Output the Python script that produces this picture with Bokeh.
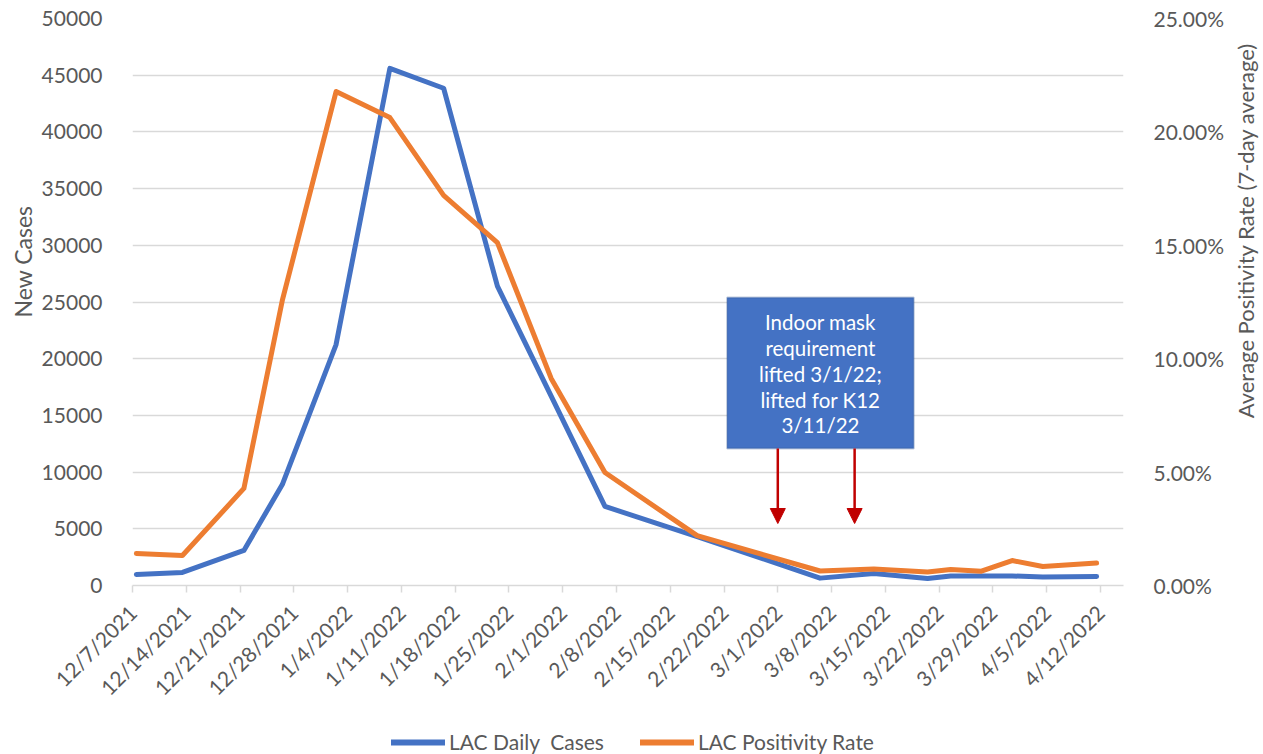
import pandas as pd
from math import pi
from bokeh.plotting import figure
from bokeh.layouts import column
from bokeh.models import (LinearAxis, Range1d, FixedTicker, NumeralTickFormatter,
                          Legend, LegendItem, BoxAnnotation, Label, Arrow, NormalHead)
from bokeh.embed import file_html
from bokeh.resources import INLINE

# ---------------- data ----------------
dates = ["2021-12-07", "2021-12-13", "2021-12-21", "2021-12-26", "2022-01-02",
         "2022-01-09", "2022-01-16", "2022-01-23", "2022-01-30", "2022-02-06",
         "2022-02-18", "2022-03-06", "2022-03-13", "2022-03-20", "2022-03-23",
         "2022-03-27", "2022-03-31", "2022-04-04", "2022-04-11"]
daily_cases = [970, 1150, 3090, 8900, 21250, 45600, 43850, 26400, 16700, 6970,
               4320, 650, 1060, 620, 840, 840, 840, 750, 790]
positivity_rate = [0.0141, 0.0132, 0.0428, 0.1257, 0.2178, 0.2063, 0.1720, 0.1512,
                   0.0913, 0.0498, 0.0220, 0.0064, 0.0073, 0.0060, 0.0071, 0.0063,
                   0.0110, 0.0084, 0.0099]
tick_labels = ["12/7/2021", "12/14/2021", "12/21/2021", "12/28/2021", "1/4/2022",
               "1/11/2022", "1/18/2022", "1/25/2022", "2/1/2022", "2/8/2022",
               "2/15/2022", "2/22/2022", "3/1/2022", "3/8/2022", "3/15/2022",
               "3/22/2022", "3/29/2022", "4/5/2022", "4/12/2022"]
series_names = ["LAC Daily  Cases", "LAC Positivity Rate"]
mask_dates = ["2022-03-01", "2022-03-11"]
note_lines = ["Indoor mask", "requirement", "lifted 3/1/22;", "lifted for K12", "3/11/22"]

# ---------------- helpers ----------------
start = pd.Timestamp(dates[0])
def day(d):
    return (pd.Timestamp(d) - start).days

# Excel date axis centres each point in its day
xs = [day(d) + 0.5 for d in dates]
tick_days = [day(pd.Timestamp(l)) for l in tick_labels]

FONT = "Lato"
TXT = "#595959"
BLUE = "#4472C4"
ORANGE = "#ED7D31"
GRID = "#D9D9D9"

W, H_MAIN, H_LEG = 1263, 720, 34

p = figure(width=W, height=H_MAIN, output_backend="svg", toolbar_location=None,
           x_range=Range1d(0, 129), y_range=Range1d(0, 50000),
           min_border_left=132, min_border_right=140, min_border_top=18,
           min_border_bottom=135)
p.outline_line_color = None
p.extra_y_ranges = {"pct": Range1d(0, 0.25)}

# grid
p.xgrid.visible = False
p.ygrid.ticker = FixedTicker(ticks=list(range(0, 50001, 5000)))
p.ygrid.grid_line_color = GRID
p.ygrid.grid_line_width = 1.5

# left axis
ya = p.yaxis[0]
ya.ticker = FixedTicker(ticks=list(range(0, 50001, 5000)))
ya.formatter = NumeralTickFormatter(format="0")
ya.axis_line_color = None
ya.major_tick_line_color = None
ya.minor_tick_line_color = None
ya.major_label_standoff = 24
ya.major_label_text_font = FONT
ya.major_label_text_font_size = "21px"
ya.major_label_text_color = TXT

# right axis
ra = LinearAxis(y_range_name="pct",
                ticker=FixedTicker(ticks=[0, 0.05, 0.10, 0.15, 0.20, 0.25]),
                formatter=NumeralTickFormatter(format="0.00%"))
ra.axis_line_color = None
ra.major_tick_line_color = None
ra.minor_tick_line_color = None
ra.major_label_standoff = 24
ra.major_label_text_font = FONT
ra.major_label_text_font_size = "21px"
ra.major_label_text_color = TXT
p.add_layout(ra, "right")

# bottom axis
xa = p.xaxis[0]
xa.ticker = FixedTicker(ticks=tick_days)
xa.major_label_overrides = {t: l for t, l in zip(tick_days, tick_labels)}
xa.major_label_orientation = pi / 4
xa.axis_line_color = GRID
xa.axis_line_width = 1.5
xa.major_tick_line_color = GRID
xa.major_tick_line_width = 1.5
xa.major_tick_in = 0
xa.major_tick_out = 7
xa.minor_tick_line_color = None
xa.major_label_standoff = 16
xa.major_label_text_font = FONT
xa.major_label_text_font_size = "21px"
xa.major_label_text_color = TXT

# series
p.line(xs, daily_cases, line_color=BLUE, line_width=5,
       line_join="round", line_cap="round")
p.line(xs, positivity_rate, y_range_name="pct", line_color=ORANGE,
       line_width=5, line_join="round", line_cap="round")

# axis titles (placed in the side panels so they are not clipped by the frame)
p.add_layout(Label(x=-14.3, y=28571, text="New Cases", angle=pi / 2,
                   text_align="center", text_baseline="middle", text_font=FONT,
                   text_font_size="23px", text_color=TXT), "left")
p.add_layout(Label(x=144.9, y=0.1565, y_range_name="pct",
                   text="Average Positivity Rate (7-day average)", angle=pi / 2,
                   text_align="center", text_baseline="middle", text_font=FONT,
                   text_font_size="22px", text_color=TXT), "right")

# annotation box
box_left, box_right, box_bottom, box_top = 77.4, 101.7, 12080, 25400
p.add_layout(BoxAnnotation(left=box_left, right=box_right, bottom=box_bottom,
                           top=box_top, fill_color=BLUE, fill_alpha=1.0,
                           line_color="#2F528F", line_width=2))
cx = (box_left + box_right) / 2
for i, t in enumerate(note_lines):
    p.add_layout(Label(x=cx, y=box_top, y_offset=-(25 + 25.7 * i), text=t,
                       text_align="center", text_baseline="middle",
                       text_font=FONT, text_font_size="20.5px",
                       text_color="white"))
for d in mask_dates:
    p.add_layout(Arrow(end=NormalHead(size=15, fill_color="#C00000",
                                      line_color="#C00000"),
                       x_start=day(d), y_start=box_bottom, x_end=day(d),
                       y_end=5467, line_color="#C00000", line_width=2.5))

# legend strip (separate figure so the legend is not clipped by the main frame)
q = figure(width=W, height=H_LEG, output_backend="svg", toolbar_location=None,
           x_range=Range1d(0, 1), y_range=Range1d(0, 1),
           x_axis_location=None, y_axis_location=None, min_border=0)
q.outline_line_color = None
q.grid.visible = False
# off-screen stand-ins that only supply the legend swatches
lr1 = q.line([-10, -9], [-10, -10], line_color=BLUE, line_width=6, line_cap="round")
lr2 = q.line([-10, -9], [-10, -10], line_color=ORANGE, line_width=6, line_cap="round")
legend = Legend(items=[LegendItem(label=series_names[0], renderers=[lr1]),
                       LegendItem(label=series_names[1], renderers=[lr2])],
                location=(259, 0), orientation="horizontal",
                glyph_width=54, glyph_height=22, label_standoff=4, spacing=36,
                padding=0, margin=0, border_line_color=None,
                background_fill_alpha=0, label_text_font=FONT,
                label_text_font_size="21px", label_text_color=TXT)
q.add_layout(legend)

open("out.html", "w").write(file_html(column(p, q, spacing=0), INLINE))
